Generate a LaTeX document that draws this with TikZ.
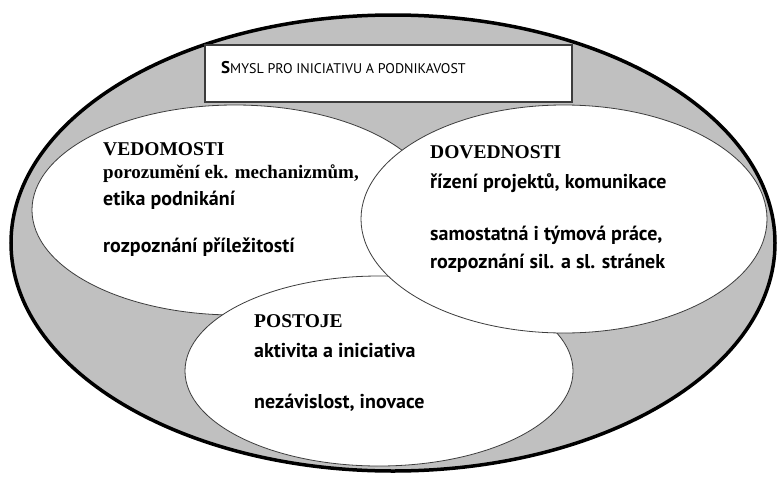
\documentclass[tikz,border=0pt]{standalone}
\usepackage{fontspec}
\setmainfont{Liberation Serif}
\setsansfont{PT Sans}
\usetikzlibrary{shapes.geometric}
\definecolor{ringgray}{RGB}{192,192,192}
\definecolor{edgegray}{RGB}{60,60,60}
\tikzset{
  ring/.style={ellipse,draw=black,line width=3.5pt,fill=ringgray,inner sep=0},
  bubble/.style={ellipse,draw=edgegray,line width=0.8pt,fill=white,inner sep=0},
  heading/.style={anchor=base west,inner sep=0,font=\rmfamily\bfseries\fontsize{19.5}{19.5}\selectfont},
  itemtext/.style={anchor=base west,inner sep=0,font=\sffamily\bfseries\fontsize{20}{20}\selectfont},
  itemserif/.style={anchor=base west,inner sep=0,font=\rmfamily\bfseries\fontsize{19}{19}\selectfont},
}
\begin{document}
\begin{tikzpicture}[x=1pt,y=-1pt]
\useasboundingbox (0,0) rectangle (779,477);

\node[ring,minimum width=764pt,minimum height=456pt] (outer) at (393,243) {};
\draw[fill=white,draw=edgegray,line width=1.2pt] (205,45) rectangle (572,102);
\node[anchor=base west,inner sep=0,font=\sffamily\fontsize{14}{14}\selectfont] (title) at (221,73) {{\fontsize{17}{17}\selectfont\bfseries S}MYSL PRO INICIATIVU A PODNIKAVOST};

\node[bubble,minimum width=406pt,minimum height=210pt] (vedomosti) at (235,210) {};
\node[bubble,minimum width=388pt,minimum height=190pt] (postoje) at (379,371) {};
\node[bubble,minimum width=406pt,minimum height=228pt] (dovednosti) at (564,219) {};

\node[heading] (vedH) at (103,155) {VEDOMOSTI};
\node[itemserif] (ved1) at (103,178) {porozumění ek. mechanizmům,};
\node[itemtext] (ved2) at (103,205) {etika podnikání};
\node[itemtext] (ved3) at (103,252) {rozpoznání příležitostí};

\node[heading] (dovH) at (430,158) {DOVEDNOSTI};
\node[itemtext] (dov1) at (430,188) {řízení projektů, komunikace};
\node[itemtext] (dov2) at (430,240) {samostatná i týmová práce,};
\node[itemtext] (dov3) at (430,268) {rozpoznání sil. a sl. stránek};

\node[heading] (posH) at (254,327) {POSTOJE};
\node[itemtext] (pos1) at (254,357) {aktivita a iniciativa};
\node[itemtext] (pos2) at (254,408) {nezávislost, inovace};
\end{tikzpicture}
\end{document}
